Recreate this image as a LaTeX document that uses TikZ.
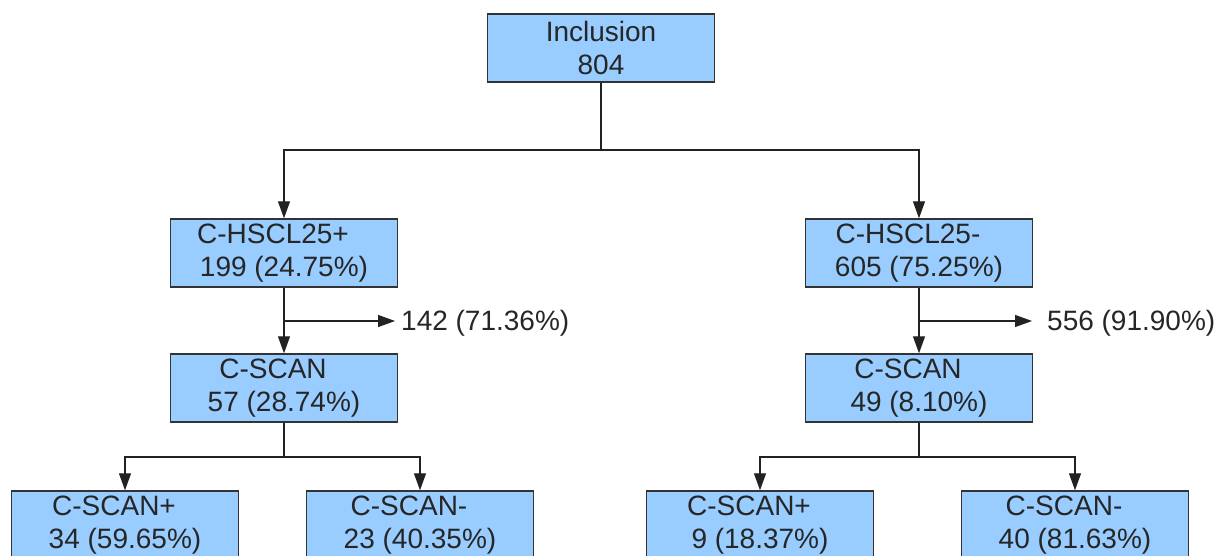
\documentclass[tikz,border=0pt]{standalone}
\usepackage{fontspec}
\setmainfont{Liberation Sans}
\usetikzlibrary{arrows.meta}
\definecolor{boxfill}{HTML}{99CCFF}
\definecolor{boxline}{HTML}{333333}
\definecolor{lnk}{HTML}{222222}
\newcommand{\lsh}{\hspace*{22pt}}
\tikzset{
  box/.style={draw=boxline, line width=1.4pt, fill=boxfill, minimum width=227pt, minimum height=68pt, inner sep=0pt, align=center, font=\fontsize{28pt}{33pt}\selectfont, text=black!85},
  lbl/.style={inner sep=0pt, font=\fontsize{28pt}{33pt}\selectfont, text=black!85},
  link/.style={draw=lnk, line width=1.1pt},
  arr/.style={link, -{Triangle[length=17pt,width=12pt]}}
}
\begin{document}
\begin{tikzpicture}[x=1pt,y=-1pt]
\useasboundingbox (0,0) rectangle (1231,556);
\clip (0,0) rectangle (1231,556);
\fill[white] (0,0) rectangle (1231,556);
% nodes
\node[box] (inc) at (601,48) {Inclusion\\804};
\node[box] (hp) at (284,253) {C-HSCL25+\lsh\\199 (24.75\%)};
\node[box] (hm) at (919,253) {C-HSCL25-\lsh\\605 (75.25\%)};
\node[box] (sp) at (284,388) {C-SCAN\lsh\\57 (28.74\%)};
\node[box] (sm) at (919,388) {C-SCAN\lsh\\49 (8.10\%)};
\node[box] (b1) at (125,525) {C-SCAN+\lsh\\34 (59.65\%)};
\node[box] (b2) at (420,525) {C-SCAN-\lsh\\23 (40.35\%)};
\node[box] (b3) at (760,525) {C-SCAN+\lsh\\9 (18.37\%)};
\node[box] (b4) at (1075,525) {C-SCAN-\lsh\\40 (81.63\%)};
\node[lbl, anchor=base west] (ex1) at (401,330) {142 (71.36\%)};
\node[lbl, anchor=base west] (ex2) at (1047,330) {556 (91.90\%)};
% junctions
\coordinate (j1) at (601,150);
\coordinate (k1) at (284,321);
\coordinate (k2) at (919,321);
\coordinate (j2) at (284,457);
\coordinate (j3) at (919,457);
% connectors
\draw[link] (inc.south) -- (j1);
\draw[arr] (j1) -| (hp.north);
\draw[arr] (j1) -| (hm.north);
\draw[arr] (hp.south) -- (sp.north);
\draw[arr] (hm.south) -- (sm.north);
\draw[arr] (k1) -- ([xshift=-6pt]ex1.west |- k1);
\draw[arr] (k2) -- ([xshift=-15pt]ex2.west |- k2);
\draw[link] (sp.south) -- (j2);
\draw[arr] (j2) -| (b1.north);
\draw[arr] (j2) -| (b2.north);
\draw[link] (sm.south) -- (j3);
\draw[arr] (j3) -| (b3.north);
\draw[arr] (j3) -| (b4.north);
\end{tikzpicture}
\end{document}
